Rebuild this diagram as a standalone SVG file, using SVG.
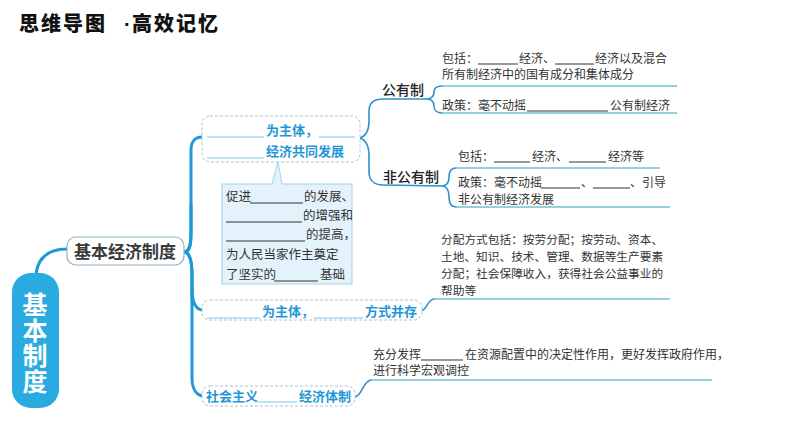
<svg xmlns="http://www.w3.org/2000/svg" width="794" height="447" viewBox="0 0 794 447">
<style>
  .cjk{font-family:"Noto Sans CJK SC","Noto Sans",sans-serif}
  .body{font-family:"Noto Sans CJK SC",sans-serif;font-size:12px;fill:#333}
  .blue{font-family:"Noto Sans CJK SC",sans-serif;font-size:13px;font-weight:700;fill:#1f97d6}
  .dash{fill:#fff;stroke:#a8c4d3;stroke-width:1;stroke-dasharray:3 2}
  .ul{stroke:#333;stroke-width:1}
  .bul{stroke:#7cc5e8;stroke-width:1.2}
  .main{fill:none;stroke:#1d9ad6;stroke-width:3;stroke-linecap:round}
  .sub{fill:none;stroke:#2b93c9;stroke-width:1.6;stroke-linecap:round}
  .teal{fill:none;stroke:#73c1d4;stroke-width:1.6}
  .lbl{font-family:"Noto Sans CJK SC",sans-serif;font-size:14px;font-weight:500;fill:#222}
  .title{font-family:"Noto Sans CJK SC",sans-serif;font-size:20px;font-weight:900;fill:#111;letter-spacing:2px}
</style>
<rect width="794" height="447" fill="#fff"/>

<g id="title">
  <text class="title" x="19" y="31">思维导图</text>
  <text x="124" y="31" font-family="Liberation Sans, sans-serif" font-size="20" font-weight="700" fill="#111">·</text>
  <text class="title" x="132" y="31">高效记忆</text>
</g>

<g id="connectors">
  <path class="main" d="M36,274 C38,258 48,249 67,249"/>
  <path class="main" d="M185,252 C190,250 191,244 191,232 L191,150 C191,142 195,137 202,137"/>
  <path class="main" d="M185,252 C190,254 192,262 192,275 L192,378 C192,388 196,395 203,396"/>
  <path class="main" stroke-width="4.5" d="M186,252 C190,250 191,244 191,232 L191,205"/>
  <path class="main" stroke-width="4.5" d="M186,252 C190,254 192,262 192,275 L192,300"/>
  <path class="main" stroke-width="2.2" d="M192,288 C192,300 195,309 202,310"/>
  <path class="sub" d="M360,138 C366,136 369,131 369,121 L369,111 C369,103 374,99 383,99 L428,99"/>
  <path class="sub" d="M360,138 C366,140 369,146 369,156 L369,172 C369,180 374,185 383,185 L443,186"/>
  <path class="sub" d="M428,99 C433,98 434,95 434,92 C434,88 437,86 442,86"/>
  <path class="sub" d="M428,99 C433,100 434,103 434,106 C434,110 437,113 442,113"/>
  <path class="teal" d="M442,86 L677,86 M442,113 L677,113"/>
  <path class="sub" d="M443,186 C448,185 449,181 449,177 C449,171 451,168 456,168"/>
  <path class="sub" d="M443,186 C448,187 449,192 449,197 C449,203 451,207 456,207"/>
  <path class="teal" d="M456,168 L660,168"/>
  <path class="teal" stroke="#b9dde6" d="M456,207 L670,207"/>
  <path class="sub" d="M421,311 C427,310 427,300 434,299"/>
  <path class="teal" d="M434,299 L670,299"/>
  <path class="sub" d="M355,397 C362,396 363,381 371,380"/>
  <path class="teal" d="M371,380 L712,380"/>
</g>

<g id="root">
  <rect x="12" y="273" width="47" height="135" rx="19" fill="#29abe2"/>
  <text class="cjk" x="35" y="292" font-size="25" font-weight="700" fill="#fff" style="writing-mode:vertical-rl" letter-spacing="0.5">基本制度</text>
</g>

<g id="n-basic">
  <rect x="67" y="237" width="117" height="28" rx="9" fill="#fff" stroke="#8fb3c6" stroke-width="1.2"/>
  <text class="cjk" x="74" y="258" font-size="17" font-weight="700" fill="#3a3a3a">基本经济制度</text>
</g>

<g id="n-ownership">
  <rect class="dash" x="202" y="116" width="158" height="46" rx="8"/>
  <line class="bul" x1="207" y1="137" x2="264" y2="137"/>
  <text class="blue" x="266" y="135">为主体，</text>
  <line class="bul" x1="319" y1="137" x2="355" y2="137"/>
  <line class="bul" x1="207" y1="158" x2="264" y2="158"/>
  <text class="blue" x="266" y="156">经济共同发展</text>
</g>

<g id="n-callout">
  <rect x="222" y="184" width="130" height="100" fill="#e3f2fb" stroke="#a6d0ea" stroke-width="1"/>
  <polygon points="272,185 278,162 282,185" fill="#e3f2fb"/>
  <polyline points="272,184 278,162 282,184" fill="none" stroke="#a6d0ea" stroke-width="1"/>
  <g class="body" font-size="12.5">
    <text x="226" y="201" font-size="12.5">促进</text>
    <line class="ul" x1="250" y1="203" x2="303" y2="203"/>
    <text x="304" y="201" font-size="12.5">的发展、</text>
    <line class="ul" x1="226" y1="222" x2="302" y2="222"/>
    <text x="303" y="220" font-size="12.5">的增强和</text>
    <line class="ul" x1="226" y1="241" x2="305" y2="241"/>
    <text x="306" y="239" font-size="12.5">的提高，</text>
    <text x="226" y="259" font-size="12.5">为人民当家作主奠定</text>
    <text x="226" y="279" font-size="12.5">了坚实的</text>
    <line class="ul" x1="274" y1="281" x2="318" y2="281"/>
    <text x="320" y="279" font-size="12.5">基础</text>
  </g>
</g>

<g id="n-public">
  <text class="lbl" x="382" y="95">公有制</text>
  <text class="body" x="442" y="63">包括：</text>
  <line class="ul" x1="478" y1="64" x2="518" y2="64"/>
  <text class="body" x="519" y="63">经济、</text>
  <line class="ul" x1="555" y1="64" x2="594" y2="64"/>
  <text class="body" x="595" y="63">经济以及混合</text>
  <text class="body" x="442" y="79">所有制经济中的国有成分和集体成分</text>
  <text class="body" x="442" y="110">政策：毫不动摇</text>
  <line class="ul" x1="527" y1="111" x2="608" y2="111"/>
  <text class="body" x="610" y="110">公有制经济</text>
</g>

<g id="n-nonpublic">
  <text class="lbl" x="383" y="182">非公有制</text>
  <text class="body" x="458" y="161">包括：</text>
  <line class="ul" x1="494" y1="162" x2="530" y2="162"/>
  <text class="body" x="532" y="161">经济、</text>
  <line class="ul" x1="569" y1="162" x2="606" y2="162"/>
  <text class="body" x="608" y="161">经济等</text>
  <text class="body" x="458" y="187">政策：毫不动摇</text>
  <line class="ul" x1="541" y1="188" x2="580" y2="188"/>
  <text class="body" x="581" y="187">、</text>
  <line class="ul" x1="593" y1="188" x2="630" y2="188"/>
  <text class="body" x="630" y="187">、引导</text>
  <text class="body" x="458" y="204">非公有制经济发展</text>
</g>

<g id="n-distribution">
  <rect class="dash" x="202" y="300" width="220" height="20" rx="8"/>
  <line class="bul" x1="207" y1="318" x2="260" y2="318"/>
  <text class="blue" x="262" y="316">为主体，</text>
  <line class="bul" x1="314" y1="318" x2="363" y2="318"/>
  <text class="blue" x="365" y="316">方式并存</text>
</g>

<g id="n-distribution-detail" class="body" font-size="11.7">
  <text x="441" y="244" font-size="11.7">分配方式包括：按劳分配；按劳动、资本、</text>
  <text x="441" y="261" font-size="11.7">土地、知识、技术、管理、数据等生产要素</text>
  <text x="441" y="278" font-size="11.7">分配；社会保障收入，获得社会公益事业的</text>
  <text x="441" y="295" font-size="11.7">帮助等</text>
</g>

<g id="n-market">
  <rect class="dash" x="202" y="386" width="153" height="20" rx="8"/>
  <text class="blue" x="206" y="401">社会主义</text>
  <line class="bul" x1="258" y1="402" x2="297" y2="402"/>
  <text class="blue" x="299" y="401">经济体制</text>
</g>

<g id="n-market-detail">
  <text class="body" x="373" y="359">充分发挥</text>
  <line class="ul" x1="421" y1="360" x2="463" y2="360"/>
  <text class="body" x="465" y="359" font-size="11.8">在资源配置中的决定性作用，更好发挥政府作用，</text>
  <text class="body" x="373" y="375">进行科学宏观调控</text>
</g>
</svg>
